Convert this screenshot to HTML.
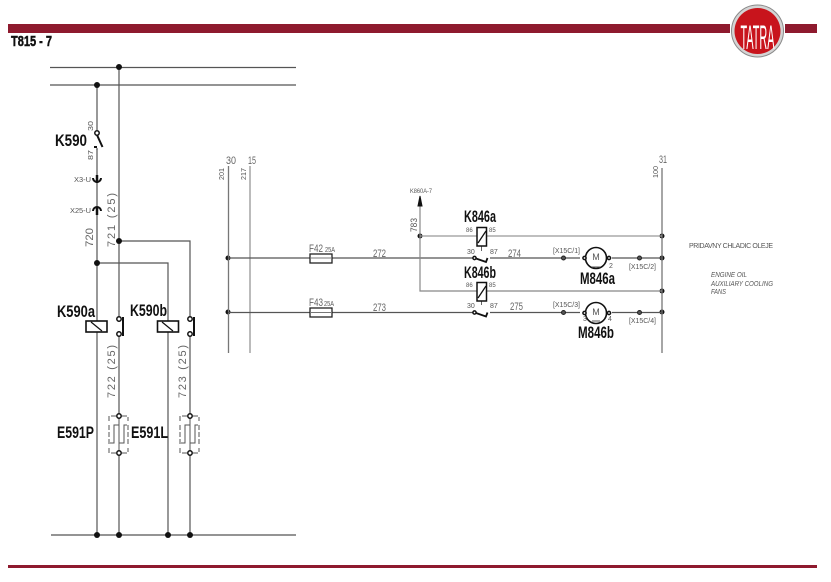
<!DOCTYPE html>
<html><head><meta charset="utf-8"><style>
html,body{margin:0;padding:0;background:#fff}
svg{display:block}
text{font-family:"Liberation Sans Narrow","Liberation Sans",sans-serif;}
.b{font-weight:bold;fill:#111;font-size:17px}
.g{fill:#666;font-size:11px}
.s{fill:#555;font-size:7px}
.l{stroke:#555;stroke-width:1.2;fill:none}
.c{stroke:#aaa;stroke-width:1.6;fill:none}
.k{stroke:#111;stroke-width:1.8;fill:none}
.o{fill:#fff;stroke:#111;stroke-width:1.5}
</style></head><body>
<svg width="831" height="582" viewBox="0 0 831 582" xmlns="http://www.w3.org/2000/svg">
<rect x="8" y="24" width="722" height="9" fill="#8e1a2e"/>
<rect x="785" y="24" width="32" height="9" fill="#8e1a2e"/>
<rect x="8" y="565" width="809" height="3" fill="#8e1a2e"/>
<circle cx="757.500" cy="31" r="26" fill="#d4d4d4" stroke="#8a8a8a"/>
<circle cx="757.500" cy="31" r="23" fill="#c8141c"/>
<text x="757.500" y="49" text-anchor="middle" font-size="34" fill="#fff" textLength="34" lengthAdjust="spacingAndGlyphs">TATRA</text>
<text x="11" y="46" font-size="15" font-weight="bold" fill="#111" stroke="#111" stroke-width=".5" textLength="41" lengthAdjust="spacingAndGlyphs">T815 - 7</text>

<path class="l" d="M50 67.500H296M50 85H296M51 535H296"/>
<path class="l" d="M97 85V535M119 67V535M119 241H190V535M97 263H168V535"/>
<g fill="#111">
<circle cx="119" cy="67" r="3"/><circle cx="97" cy="85" r="3"/><circle cx="119" cy="241" r="3"/><circle cx="97" cy="263" r="3"/>
<circle cx="97" cy="535" r="3"/><circle cx="119" cy="535" r="3"/><circle cx="168" cy="535" r="3"/><circle cx="190" cy="535" r="3"/>
<circle cx="228" cy="258" r="2.500"/><circle cx="228" cy="312" r="2.500"/>
<circle cx="420" cy="236" r="2.500"/>
<circle cx="662" cy="236" r="2.500"/><circle cx="662" cy="258" r="2.500"/><circle cx="662" cy="291" r="2.500"/><circle cx="662" cy="312" r="2.500"/>
</g>

<rect x="92" y="127" width="12" height="22" fill="#fff"/>
<path class="l" d="M97 127V130M97 148V150"/>
<circle cx="97" cy="133" r="2.200" class="o"/>
<path stroke="#111" stroke-width="2" fill="none" d="M97 135L102.500 147M97 147H94"/>
<text class="b" x="55" y="146" textLength="32" lengthAdjust="spacingAndGlyphs">K590</text>
<text class="s" transform="translate(93,131) rotate(-90)" textLength="10" lengthAdjust="spacingAndGlyphs">30</text>
<text class="s" transform="translate(93,160) rotate(-90)" textLength="10" lengthAdjust="spacingAndGlyphs">87</text>
<path d="M93 178a4 4 0 0 0 8 0" stroke="#111" stroke-width="2" fill="none"/>
<path d="M97 175V183" stroke="#111" stroke-width="2.500"/>
<path d="M93 211a4 4 0 0 1 8 0" stroke="#111" stroke-width="2" fill="none"/>
<path d="M97 208V215" stroke="#111" stroke-width="2.500"/>
<text class="s" x="74" y="182" textLength="17" lengthAdjust="spacingAndGlyphs">X3-U</text>
<text class="s" x="70" y="213" textLength="21" lengthAdjust="spacingAndGlyphs">X25-U</text>
<text class="g" transform="translate(93,247) rotate(-90)" textLength="19" lengthAdjust="spacingAndGlyphs">720</text>
<text class="g" transform="translate(115,247) rotate(-90)" textLength="54">721 (25)</text>

<text class="b" x="57" y="317" textLength="38" lengthAdjust="spacingAndGlyphs">K590a</text>
<text class="b" x="130" y="316" textLength="37" lengthAdjust="spacingAndGlyphs">K590b</text>
<g fill="#fff" stroke="#111" stroke-width="1.600">
<rect x="86" y="321" width="21" height="11"/><rect x="157.500" y="321" width="21" height="11"/>
</g>
<path stroke="#111" stroke-width="1.200" d="M91 322L102 331M162 322L173 331"/>
<path d="M123 317V336M194 317V336" stroke="#111" stroke-width="2"/>
<rect x="116" y="322" width="6" height="9" fill="#fff"/><rect x="187" y="322" width="6" height="9" fill="#fff"/>
<circle cx="119" cy="319" r="2.200" class="o"/><circle cx="119" cy="334" r="2.200" class="o"/>
<circle cx="190" cy="319" r="2.200" class="o"/><circle cx="190" cy="334" r="2.200" class="o"/>
<text class="g" transform="translate(115,398) rotate(-90)" textLength="53">722 (25)</text>
<text class="g" transform="translate(186,398) rotate(-90)" textLength="53">723 (25)</text>

<g fill="none" stroke="#555" stroke-width="1">
<path d="M116 416H109V421M122 416H128V421M116 453H109V448M122 453H128V448M109 425V444M128 425V444" stroke-dasharray="5 2"/>
<rect x="111" y="419" width="15" height="31" fill="#fff" stroke="none"/>
<path d="M119 418V425M110 443H114V425H119V443H124V425H127M119 443V451"/>
</g>
<g fill="none" stroke="#555" stroke-width="1">
<path d="M187 416H180V421M193 416H199V421M187 453H180V448M193 453H199V448M180 425V444M199 425V444" stroke-dasharray="5 2"/>
<rect x="182" y="419" width="15" height="31" fill="#fff" stroke="none"/>
<path d="M190 418V425M181 443H185V425H190V443H195V425H198M190 443V451"/>
</g>
<circle cx="119" cy="416" r="2.200" class="o"/><circle cx="119" cy="453" r="2.200" class="o"/>
<circle cx="190" cy="416" r="2.200" class="o"/><circle cx="190" cy="453" r="2.200" class="o"/>
<text class="b" x="57" y="438" textLength="37" lengthAdjust="spacingAndGlyphs">E591P</text>
<text class="b" x="131" y="438" textLength="37" lengthAdjust="spacingAndGlyphs">E591L</text>

<path stroke="#777" stroke-width="1.300" fill="none" d="M228.500 166V353"/>
<path class="c" d="M250 166V353"/>
<path stroke="#777" stroke-width="1.300" fill="none" d="M662 168V353"/>
<text class="g" x="226" y="164" textLength="10" lengthAdjust="spacingAndGlyphs">30</text>
<text class="g" x="248" y="164" textLength="8" lengthAdjust="spacingAndGlyphs">15</text>
<text class="s" transform="translate(224,180) rotate(-90)" textLength="12" lengthAdjust="spacingAndGlyphs">201</text>
<text class="s" transform="translate(246,180) rotate(-90)" textLength="12" lengthAdjust="spacingAndGlyphs">217</text>
<text class="g" x="659" y="163" textLength="8" lengthAdjust="spacingAndGlyphs">31</text>
<text class="s" transform="translate(658,178) rotate(-90)" textLength="12" lengthAdjust="spacingAndGlyphs">100</text>

<path class="l" d="M228 258H473M228 312.500H473M490 258H580M612 258H662M490 312.500H580M612 312.500H662"/>
<path stroke="#888" stroke-width="1.200" fill="none" d="M420 205V291H477M487 291H662"/>
<path d="M420 236H477M487 236H662" stroke="#999" stroke-width="1.200" fill="none"/>
<path d="M420 196L418 206H422Z" fill="#111" stroke="#111"/>
<text class="s" x="410" y="193" style="font-size:6px" textLength="22" lengthAdjust="spacingAndGlyphs">K860A-7</text>
<text class="s" transform="translate(417,232) rotate(-90)" textLength="14" lengthAdjust="spacingAndGlyphs" style="font-size:9px">783</text>

<rect x="310" y="254" width="22" height="9" fill="#fff" stroke="#222" stroke-width="1.300"/>
<rect x="310" y="308" width="22" height="9" fill="#fff" stroke="#222" stroke-width="1.300"/>
<path d="M310 258H332M310 312.500H332" stroke="#777"/>
<text class="g" x="309" y="252" textLength="14" lengthAdjust="spacingAndGlyphs">F42</text>
<text class="s" x="325" y="252" textLength="10" lengthAdjust="spacingAndGlyphs">25A</text>
<text class="g" x="309" y="306" textLength="14" lengthAdjust="spacingAndGlyphs">F43</text>
<text class="s" x="324" y="306" textLength="10" lengthAdjust="spacingAndGlyphs">25A</text>
<text class="g" x="373" y="257" textLength="13" lengthAdjust="spacingAndGlyphs">272</text>
<text class="g" x="373" y="311" textLength="13" lengthAdjust="spacingAndGlyphs">273</text>
<text class="g" x="508" y="257" textLength="13" lengthAdjust="spacingAndGlyphs">274</text>
<text class="g" x="510" y="310" textLength="13" lengthAdjust="spacingAndGlyphs">275</text>

<text class="b" x="464" y="222" textLength="32" lengthAdjust="spacingAndGlyphs">K846a</text>
<text class="b" x="464" y="278" textLength="32" lengthAdjust="spacingAndGlyphs">K846b</text>
<path d="M481.500 246V251M481.500 300V305" stroke="#666"/>
<rect x="477" y="227.500" width="9.500" height="18.500" fill="#fff" stroke="#111" stroke-width="1.500"/>
<rect x="477" y="282.500" width="9.500" height="18.500" fill="#fff" stroke="#111" stroke-width="1.500"/>
<path d="M478 243L486 231M478 298L486 286" stroke="#111" stroke-width="1.300"/>
<text class="s" x="466" y="232" style="font-size:6px">86</text><text class="s" x="489" y="232" style="font-size:6px">85</text>
<text class="s" x="466" y="287" style="font-size:6px">86</text><text class="s" x="489" y="287" style="font-size:6px">85</text>
<text class="s" x="467" y="254">30</text><text class="s" x="490" y="254">87</text>
<text class="s" x="467" y="308">30</text><text class="s" x="490" y="308">87</text>
<circle cx="474.500" cy="258" r="1.600" class="o"/><path class="k" d="M476 258.500L486 262L487.500 258"/>
<circle cx="474.500" cy="312.500" r="1.600" class="o"/><path class="k" d="M476 313L486 316.500L487.500 312.500"/>

<circle cx="596" cy="258" r="10.500" fill="#fff" stroke="#111" stroke-width="1.600"/>
<circle cx="596" cy="313" r="10.500" fill="#fff" stroke="#111" stroke-width="1.600"/>
<circle cx="584.500" cy="258" r="1.600" class="o"/><circle cx="609" cy="258" r="1.600" class="o"/>
<circle cx="584.500" cy="313" r="1.600" class="o"/><circle cx="609" cy="313" r="1.600" class="o"/>
<text x="596" y="260" text-anchor="middle" font-size="9" fill="#555">M</text>
<text x="596" y="315" text-anchor="middle" font-size="9" fill="#555">M</text>
<path d="M592 267H600M592 321H600" stroke="#555"/>
<text class="s" x="609" y="268">2</text><text class="s" x="583" y="321">3</text><text class="s" x="608" y="321">4</text>
<text class="b" x="580" y="284" textLength="35" lengthAdjust="spacingAndGlyphs">M846a</text>
<text class="b" x="578" y="338" textLength="36" lengthAdjust="spacingAndGlyphs">M846b</text>
<g fill="#555" stroke="#222"><circle cx="563.500" cy="258" r="2"/><circle cx="639.500" cy="258" r="2"/><circle cx="563.500" cy="312.500" r="2"/><circle cx="639.500" cy="312.500" r="2"/></g>
<text class="s" x="553" y="253" textLength="27" lengthAdjust="spacingAndGlyphs">[X15C/1]</text>
<text class="s" x="629" y="269" textLength="27" lengthAdjust="spacingAndGlyphs">[X15C/2]</text>
<text class="s" x="553" y="307" textLength="27" lengthAdjust="spacingAndGlyphs">[X15C/3]</text>
<text class="s" x="629" y="323" textLength="27" lengthAdjust="spacingAndGlyphs">[X15C/4]</text>

<text class="s" x="689" y="248" textLength="84">PRIDAVNY CHLADIC OLEJE</text>
<g font-style="italic">
<text class="s" x="711" y="277" textLength="36" lengthAdjust="spacingAndGlyphs">ENGINE OIL</text>
<text class="s" x="711" y="286" textLength="62" lengthAdjust="spacingAndGlyphs">AUXILIARY COOLING</text>
<text class="s" x="711" y="294" textLength="15" lengthAdjust="spacingAndGlyphs">FANS</text>
</g>
</svg>
</body></html>
